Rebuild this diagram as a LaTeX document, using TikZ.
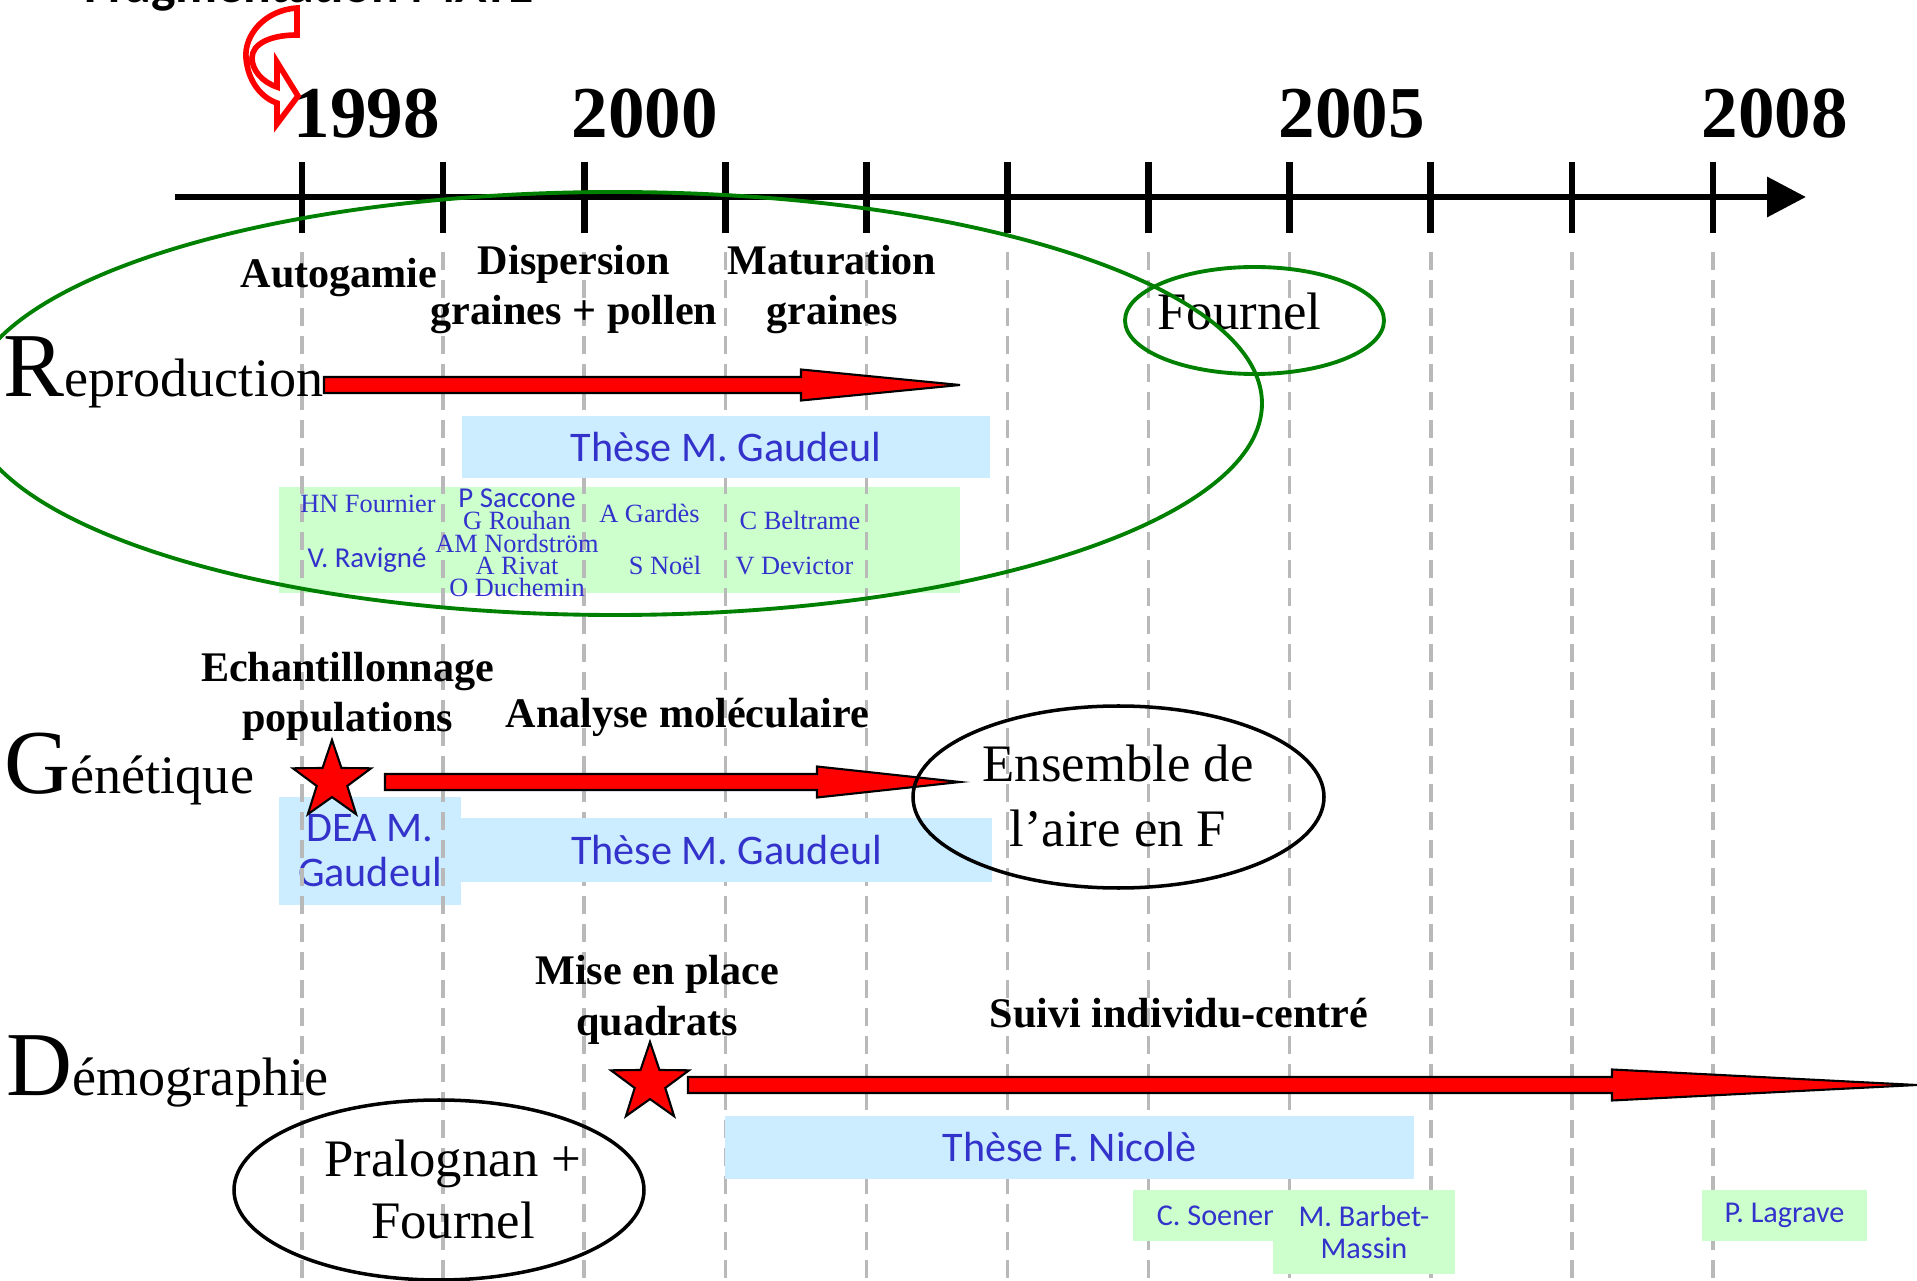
\documentclass[tikz,border=0pt]{standalone}
\usepackage{fontspec}
\setmainfont{Liberation Serif}
\newfontfamily\comicfont{Carlito}
\usetikzlibrary{arrows.meta,shapes.geometric,calc}
\definecolor{thesisblue}{RGB}{204,236,255}
\definecolor{staffgreen}{RGB}{204,255,204}
\definecolor{nameblue}{RGB}{51,51,204}
\definecolor{ringgreen}{RGB}{0,128,0}
\definecolor{gridgray}{RGB}{185,185,185}

% red block arrow: tail, head base, tip (all on one line)
\newcommand{\blockarrow}[3]{%
  \draw[blockarrow] ($(#1)+(0,-8)$) -- ($(#2)+(0,-8)$) -- ($(#2)+(0,-15.5)$)
    -- (#3) -- ($(#2)+(0,15.5)$) -- ($(#2)+(0,8)$) -- ($(#1)+(0,8)$) -- cycle;}

\begin{document}
\begin{tikzpicture}[x=0.1mm, y=-0.1mm,
    axisline/.style={line width=1.9pt},
    gridline/.style={gridgray, line width=1pt, dash pattern=on 1.8mm off 1mm},
    yearlbl/.style={font=\fontsize{20.8}{25}\selectfont\bfseries, anchor=base west, inner sep=0},
    steplbl/.style={font=\fontsize{12}{14.5}\selectfont\bfseries, align=center, anchor=base, inner sep=0},
    themelbl/.style={font=\fontsize{15.4}{18}\selectfont, anchor=base west, inner sep=0},
    sitelbl/.style={font=\fontsize{15}{18.5}\selectfont, align=center, anchor=base, inner sep=0},
    thesisbox/.style={fill=thesisblue},
    staffbox/.style={fill=staffgreen},
    comiclbl/.style={font=\comicfont\fontsize{12}{12.8}\selectfont, text=nameblue, align=center, inner sep=0},
    smallcomic/.style={font=\comicfont\fontsize{8.6}{9.1}\selectfont, text=nameblue, align=center, inner sep=0},
    namelbl/.style={font=\fontsize{7.5}{6.4}\selectfont, text=nameblue, align=center, anchor=base, inner sep=0},
    blockarrow/.style={fill=red, draw=black, line width=0.6pt, line join=miter},
    redstar/.style={star, star points=5, star point ratio=2.55, minimum size=8.2mm, inner sep=0, fill=red, draw=black, line width=0.6pt},
    greenring/.style={draw=ringgreen, ellipse, line width=1.1pt, inner sep=0},
    blackring/.style={draw, ellipse, line width=1pt, inner sep=0},
    curlyred/.style={draw=red, fill=white, line width=1.6pt, line join=miter}]
    \useasboundingbox (0,0) rectangle (1917,1281);

    % boxes lying under the year lines
    \node[staffbox, minimum width=68.1mm, minimum height=10.6mm] (reprostaff) at (619.5,540) {};
    \node[thesisbox, comiclbl, minimum width=18.2mm, minimum height=10.8mm] (dea) at (370,851) {DEA M.\\Gaudeul};

    % year lines
    \foreach \k in {0,...,10}{
        \draw[gridline] ({302+141.1*\k},252) -- ({302+141.1*\k},1281);
    }

    % theses and helpers
    \node[thesisbox, comiclbl, minimum width=52.8mm, minimum height=6.2mm] (rthese) at (726,447) {Thèse M. Gaudeul};
    \node[thesisbox, comiclbl, minimum width=53.1mm, minimum height=6.4mm] (gthese) at (726.5,850) {Thèse M. Gaudeul};
    \node[thesisbox, comiclbl, minimum width=68.9mm, minimum height=6.3mm] (dthese) at (1069.5,1147.5) {Thèse F. Nicolè};
    \node[staffbox, smallcomic, minimum width=17mm, minimum height=5.1mm] (soenen) at (1218,1215.5) {C. Soenen};
    \node[staffbox, smallcomic, minimum width=18.2mm, minimum height=8.4mm] (barbet) at (1364,1232) {M. Barbet-\\Massin};
    \node[staffbox, smallcomic, minimum width=16.5mm, minimum height=5.1mm] (lagrave) at (1784.5,1215.5) {P. Lagrave};

    % time axis
    \draw[axisline, -{Triangle[length=3.9mm,width=3.9mm]}] (175,197) -- (1806,197);
    \foreach \k in {0,...,10}{
        \draw[axisline] ({302+141.1*\k},162) -- ({302+141.1*\k},233);
    }
    \node[yearlbl] (y1998) at (293,138) {1998};
    \node[yearlbl] (y2000) at (571,138) {2000};
    \node[yearlbl] (y2005) at (1278,138) {2005};
    \node[yearlbl] (y2008) at (1701,138) {2008};

    \node[font=\comicfont\bfseries\fontsize{14.7}{16}\selectfont, anchor=base west, inner sep=0] (fragm) at (84,3) {Fragmentation MATE};
    \draw[curlyred] (297,8) .. controls (265,10) and (244,35) .. (246,58)
        .. controls (248,82) and (262,98) .. (277,103) -- (277,124) -- (298,96)
        -- (277,62) -- (277,87) .. controls (262,82) and (252,70) .. (252,58)
        .. controls (252,44) and (270,35) .. (297,35) -- cycle;

    % themes
    \node[themelbl] (repro) at (3,397) {{\fontsize{26}{26}\selectfont R}eproduction};
    \node[themelbl] (genet) at (4,793) {{\fontsize{26}{26}\selectfont G}énétique};
    \node[themelbl] (demog) at (6,1095) {{\fontsize{26}{26}\selectfont D}émographie};

    % steps (multi-line nodes sit on their last line)
    \node[steplbl] (autog) at (339,288) {Autogamie};
    \node[steplbl] (dispers) at (574,325) {Dispersion\\graines + pollen};
    \node[steplbl] (matur) at (832,325) {Maturation\\graines};
    \node[steplbl] (echant) at (347.5,732) {Echantillonnage\\populations};
    \node[steplbl] (analyse) at (687.5,727) {Analyse moléculaire};
    \node[steplbl] (quadr) at (657,1035) {Mise en place\\quadrats};
    \node[steplbl] (suivi) at (1179,1028) {Suivi individu-centré};

    % people on reproduction
    \node[namelbl] (fournier) at (368,513) {HN Fournier};
    \node[smallcomic, font=\comicfont\fontsize{8.2}{9}\selectfont, anchor=base] (ravigne) at (367,568) {V. Ravigné};
    \node[namelbl] (saccone) at (517,597) {{\comicfont\fontsize{8.2}{6.4}\selectfont P Saccone}\\G Rouhan\\AM Nordström\\A Rivat\\O Duchemin};
    \node[namelbl] (gardes) at (649.5,523) {A Gardès};
    \node[namelbl] (noel) at (665,575) {S Noël};
    \node[namelbl] (beltrame) at (800,530) {C Beltrame};
    \node[namelbl] (devictor) at (794.5,575) {V Devictor};

    % sites
    \node[sitelbl] (fourtxt) at (1239.5,330) {Fournel};
    \node[sitelbl] (enstxt) at (1118,847) {Ensemble de\\l’aire en F};
    \node[sitelbl, font=\fontsize{15}{17.4}\selectfont] (pralotxt) at (453,1238) {Pralognan +\\Fournel};

    % red arrows
    \coordinate (rtail) at (324,385);
    \coordinate (rbase) at (801,385);
    \coordinate (rtip) at (960,385);
    \blockarrow{rtail}{rbase}{rtip}
    \coordinate (gtail) at (385,782);
    \coordinate (gbase) at (817,782);
    \coordinate (gtip) at (960,782);
    \blockarrow{gtail}{gbase}{gtip}
    \coordinate (dtail) at (688,1085);
    \coordinate (dbase) at (1612,1085);
    \coordinate (dtip) at (1917,1085);
    \blockarrow{dtail}{dbase}{dtip}
    \node[redstar] (gstar) at (332,781) {};
    \node[redstar] (dstar) at (650,1083) {};

    % rings
    \node[blackring, minimum width=41.1mm, minimum height=18.2mm] (ensring) at (1118.5,797) {};
    \node[blackring, minimum width=41mm, minimum height=18mm] (pralring) at (439,1190) {};
    \node[greenring, minimum width=25.9mm, minimum height=10.7mm] (fourring) at (1254.5,320.5) {};
    \node[greenring, minimum width=129.4mm, minimum height=42.3mm] (reproring) at (615,403.5) {};
\end{tikzpicture}
\end{document}
